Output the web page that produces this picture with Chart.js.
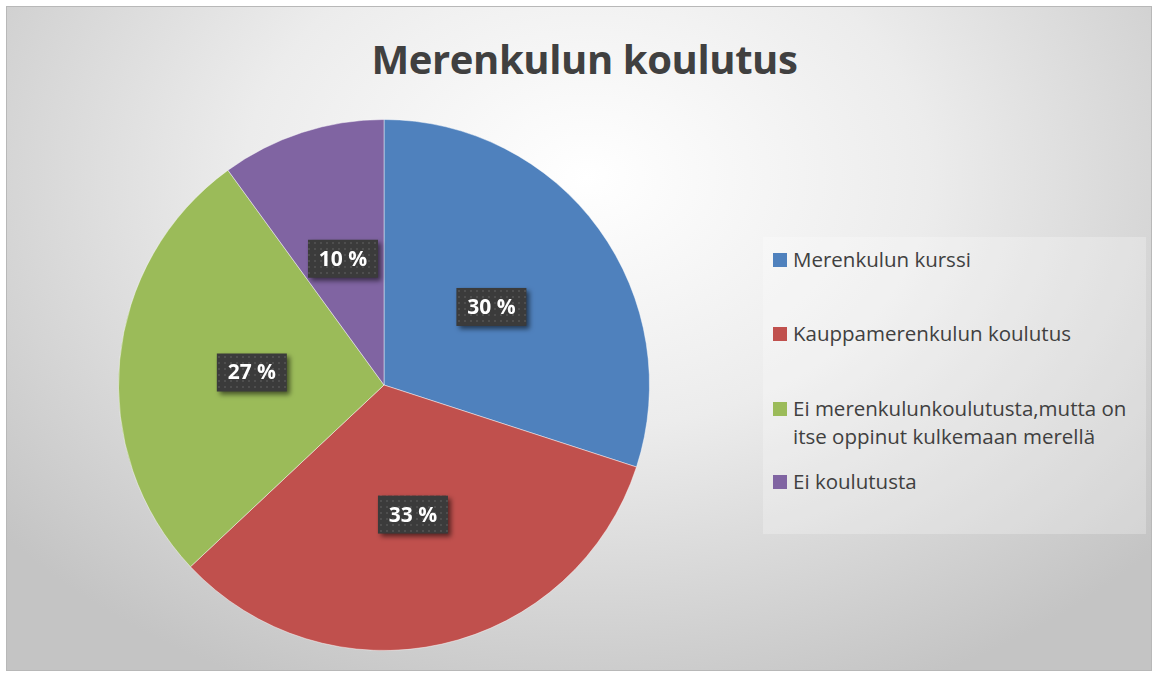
<!DOCTYPE html>
<html>
<head>
<meta charset="utf-8">
<script src="https://cdn.jsdelivr.net/npm/chart.js@4"></script>
<style>
  html, body { margin: 0; padding: 0; background: #ffffff; }
  #frame {
    position: absolute; left: 6px; top: 6px; width: 1144px; height: 663px;
    border: 1px solid #b8b8b8;
    background: radial-gradient(ellipse 760px 560px at 580px 170px, #ffffff 0%, #ececec 45%, #c4c4c4 100%);
    overflow: hidden;
  }
  #title {
    position: absolute; left: 0; top: 24px; width: 1155px; text-align: center;
    font-family: "Open Sans", sans-serif; font-weight: 700; font-size: 40px;
    color: #404040; letter-spacing: -0.4px;
  }
  #legend {
    position: absolute; left: 756px; top: 230px; width: 383px; height: 297px;
    background: rgba(255,255,255,0.25);
    font-family: "Open Sans", sans-serif; font-size: 20.5px; color: #404040;
    letter-spacing: 0px;
  }
  .item { position: absolute; left: 30px; width: 352px; line-height: 28px; }
  .box { position: absolute; left: -20px; top: 8px; width: 14px; height: 14px; }
  canvas { position: absolute; left: 0; top: 0; }
</style>
</head>
<body>
<div id="frame">
  <div id="title">Merenkulun koulutus</div>
  <div id="legend"></div>
</div>
<canvas id="myChart" width="1155" height="675"></canvas>
<script>
const labels = ['Merenkulun kurssi', 'Kauppamerenkulun koulutus', 'Ei merenkulunkoulutusta,mutta on itse oppinut kulkemaan merellä', 'Ei koulutusta'];
const values = [30, 33, 27, 10];
const colors = ['#4F81BD', '#C0504D', '#9BBB59', '#8064A2'];
const legendTops = [8, 82, 157, 230];

// legend
let legend = document.getElementById('legend');
labels.forEach((l, i) => {
    let d = document.createElement('div');
    d.className = 'item';
    d.style.top = legendTops[i] + 'px';
    d.innerHTML = `<span class="box" style="background:${colors[i]}"></span>${l}`;
    legend.appendChild(d);
});

// dotted pattern for the label boxes
function makePattern(ctx) {
    let c = document.createElement('canvas');
    c.width = 6; c.height = 6;
    let p = c.getContext('2d');
    p.fillStyle = '#3b3b3b';
    p.fillRect(0, 0, 6, 6);
    p.fillStyle = '#4e4e4e';
    p.fillRect(2, 2, 2, 2);
    return ctx.createPattern(c, 'repeat');
}

const labelPlugin = {
    id: 'boxLabels',
    afterDatasetsDraw(chart) {
        const ctx = chart.ctx;
        const meta = chart.getDatasetMeta(0);
        const pat = makePattern(ctx);
        meta.data.forEach((arc, i) => {
            const pos = arc.tooltipPosition();
            const w = 70, h = 38;
            ctx.save();
            ctx.shadowColor = 'rgba(0,0,0,0.55)';
            ctx.shadowBlur = 5;
            ctx.shadowOffsetX = 3;
            ctx.shadowOffsetY = 3;
            ctx.fillStyle = pat;
            ctx.fillRect(pos.x - w / 2, pos.y - h / 2, w, h);
            ctx.restore();
            ctx.save();
            ctx.fillStyle = '#ffffff';
            ctx.font = 'bold 21px "Open Sans"';
            ctx.textAlign = 'center';
            ctx.textBaseline = 'middle';
            ctx.fillText(values[i] + ' %', pos.x, pos.y + 1);
            ctx.restore();
        });
    }
};

new Chart(document.getElementById('myChart'), {
    type: 'pie',
    data: {
        labels: labels,
        datasets: [{
            data: values,
            backgroundColor: colors,
            borderColor: 'rgba(255,255,255,0.45)',
            borderWidth: 1
        }]
    },
    options: {
        responsive: false,
        animation: false,
        layout: { padding: { left: 118, right: 505, top: 119, bottom: 24 } },
        plugins: {
            legend: { display: false },
            tooltip: { enabled: false },
            title: { display: false }
        }
    },
    plugins: [labelPlugin]
});
</script>
</body>
</html>
